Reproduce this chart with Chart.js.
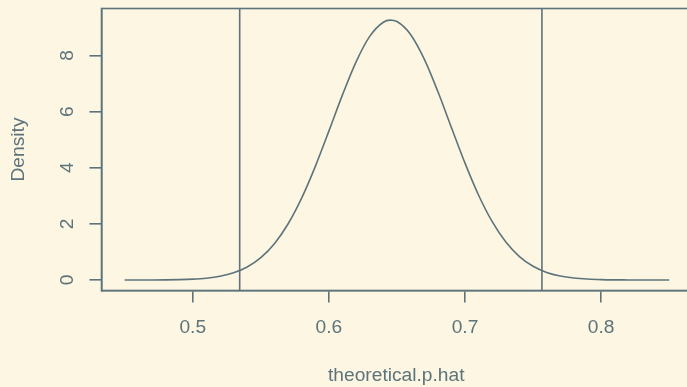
<!DOCTYPE html>
<html>
<head>
<meta charset="utf-8">
<script src="https://cdn.jsdelivr.net/npm/chart.js@4"></script>
<style>
  html, body { margin: 0; padding: 0; background: #fdf6e3; overflow: hidden; }
  #wrap { width: 687px; height: 387px; overflow: hidden; }
</style>
</head>
<body>
<div id="wrap"><canvas id="density-chart" width="700" height="387"></canvas></div>
<script>
// Sampling distribution of p.hat
const pHat = [0.45, 0.46, 0.47, 0.48, 0.49, 0.50, 0.51, 0.52, 0.53, 0.54,
  0.55, 0.56, 0.57, 0.58, 0.59, 0.60, 0.61, 0.62, 0.63, 0.64, 0.645,
  0.65, 0.66, 0.67, 0.68, 0.69, 0.70, 0.71, 0.72, 0.73, 0.74, 0.75,
  0.76, 0.77, 0.78, 0.79, 0.80, 0.81, 0.82, 0.83, 0.84, 0.85];
const density = [0.000, 0.001, 0.002, 0.006, 0.014, 0.031, 0.066, 0.133, 0.255, 0.463,
  0.795, 1.293, 1.995, 2.916, 4.040, 5.302, 6.594, 7.770, 8.676, 9.181, 9.256,
  9.206, 8.747, 7.876, 6.721, 5.432, 4.163, 3.020, 2.078, 1.354, 0.836, 0.489,
  0.272, 0.143, 0.071, 0.034, 0.015, 0.006, 0.003, 0.001, 0.000, 0.000];
const ciBounds = [0.5345, 0.7565];
const xTicks = [0.5, 0.6, 0.7, 0.8];
const yTicks = [0, 2, 4, 6, 8];
const xRange = [0.433, 0.866];
const yRange = [-0.373, 9.67];

const ink = '#5d747b';
const font = { family: '"Liberation Sans", Arial, sans-serif', size: 19.2, lineHeight: 1.2 };

const boxPlugin = {
  id: 'box',
  afterDraw(chart) {
    const { ctx, chartArea } = chart;
    ctx.save();
    ctx.strokeStyle = ink;
    ctx.lineWidth = 1.6;
    ctx.strokeRect(chartArea.left, chartArea.top, chartArea.right - chartArea.left, chartArea.bottom - chartArea.top);
    ctx.restore();
  }
};

const curve = pHat.map((x, i) => ({ x, y: density[i] }));
const ciSets = ciBounds.map((b) => ({
  data: [{ x: b, y: yRange[0] }, { x: b, y: yRange[1] }],
  borderColor: ink,
  borderWidth: 1.6,
  pointRadius: 0
}));

new Chart(document.getElementById('density-chart'), {
  type: 'line',
  data: {
    datasets: [{
      data: curve,
      borderColor: ink,
      borderWidth: 1.6,
      pointRadius: 0,
      cubicInterpolationMode: 'monotone'
    }, ...ciSets]
  },
  options: {
    responsive: false,
    devicePixelRatio: 1,
    animation: false,
    layout: { padding: { left: 0, top: 8.5, right: 9, bottom: 0 } },
    plugins: { legend: { display: false }, tooltip: { enabled: false } },
    scales: {
      x: {
        type: 'linear',
        min: xRange[0],
        max: xRange[1],
        afterBuildTicks: (scale) => { scale.ticks = xTicks.map((v) => ({ value: v })); },
        afterFit: (scale) => {
          scale.height = 96.5;
          scale.paddingLeft = 0;
          scale.paddingRight = 0;
        },
        grid: { drawOnChartArea: false, tickLength: 12, color: ink, lineWidth: 1.6 },
        border: { display: true, color: ink, width: 1.6 },
        ticks: {
          color: ink, font, padding: 14, maxRotation: 0, autoSkip: false,
          callback: (v) => v.toFixed(1)
        },
        title: { display: true, text: 'theoretical.p.hat', color: ink, font, padding: { top: 0, bottom: 0 } }
      },
      y: {
        type: 'linear',
        min: yRange[0],
        max: yRange[1],
        afterBuildTicks: (scale) => { scale.ticks = yTicks.map((v) => ({ value: v })); },
        afterFit: (scale) => {
          scale.width = 101.5;
          scale.paddingTop = 0;
          scale.paddingBottom = 0;
        },
        grid: { drawOnChartArea: false, tickLength: 12, color: ink, lineWidth: 1.6 },
        border: { display: true, color: ink, width: 1.6 },
        ticks: {
          color: ink, font, padding: 16, minRotation: 90, maxRotation: 90,
          crossAlign: 'center', autoSkip: false,
          callback: (v) => String(v)
        },
        title: { display: true, text: 'Density', color: ink, font, padding: { top: 7, bottom: 0 } }
      }
    }
  },
  plugins: [boxPlugin]
});
</script>
</body>
</html>
